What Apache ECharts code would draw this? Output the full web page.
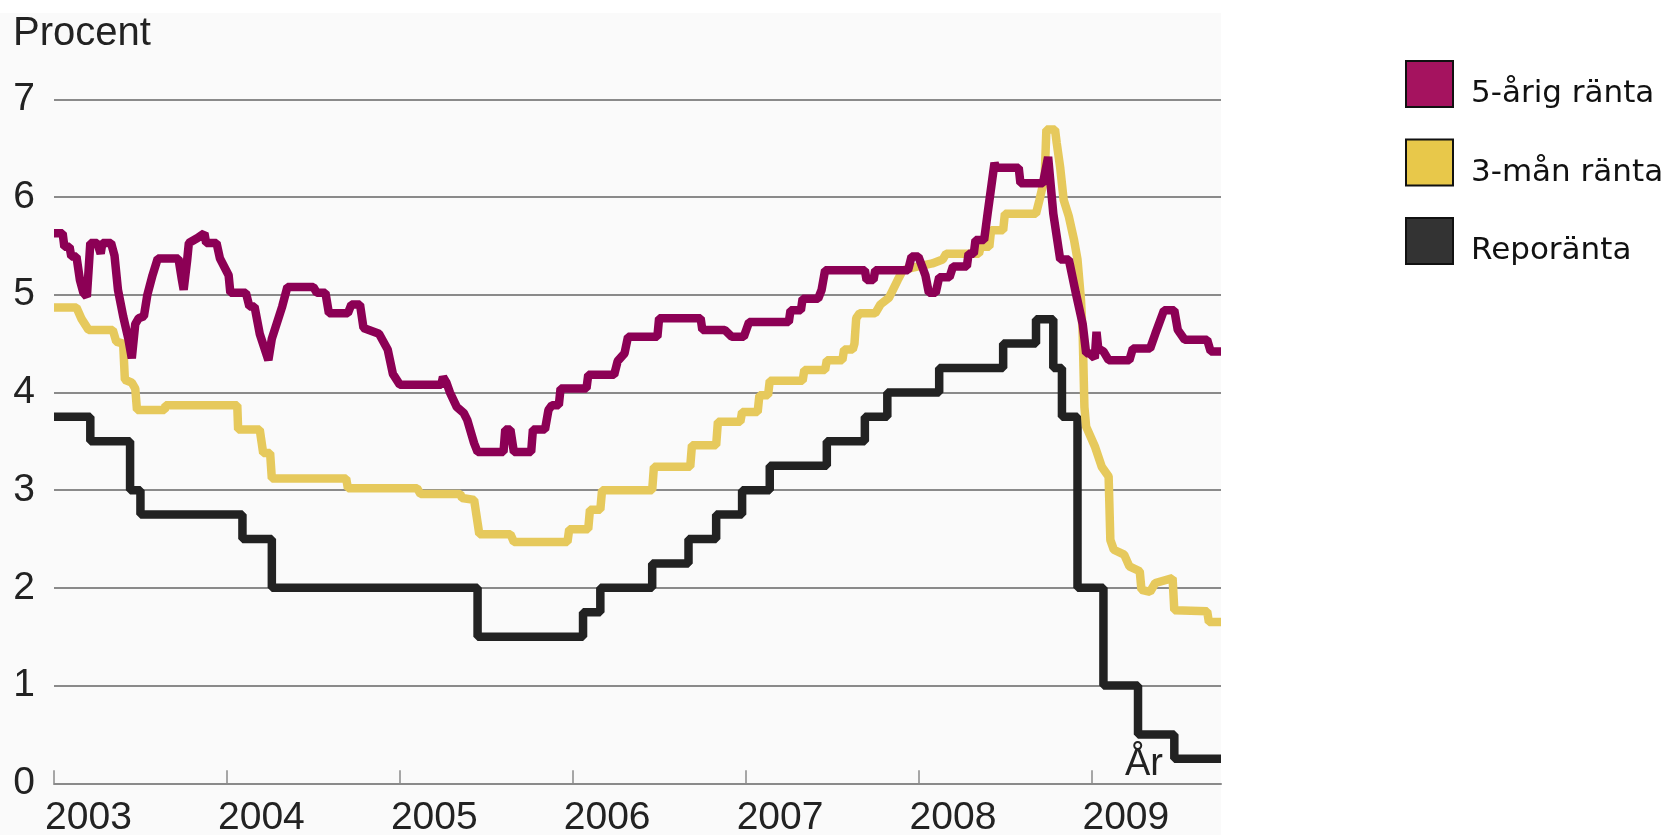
<!DOCTYPE html>
<html>
<head>
<meta charset="utf-8">
<script src="https://cdn.jsdelivr.net/npm/echarts@6/dist/echarts.min.js"></script>
<style>
html,body{margin:0;padding:0;background:#ffffff;}
#chart{width:1677px;height:835px;}
</style>
</head>
<body>
<div id="chart"></div>
<script>
// ---- Data ----
const yearTicks = [2003, 2004, 2005, 2006, 2007, 2008, 2009];
const seriesNames = ['5-årig ränta', '3-mån ränta', 'Reporänta'];

// Reporänta (step: value holds until next date)
const repoT = [2003.00, 2003.21, 2003.44, 2003.50, 2004.09, 2004.26, 2005.45, 2006.06, 2006.16, 2006.46, 2006.67, 2006.83, 2006.98, 2007.14, 2007.47, 2007.69, 2007.82, 2008.12, 2008.49, 2008.68, 2008.78, 2008.83, 2008.92, 2009.07, 2009.27, 2009.48, 2009.75];
const repoV = [3.75, 3.50, 3.00, 2.75, 2.50, 2.00, 1.50, 1.75, 2.00, 2.25, 2.50, 2.75, 3.00, 3.25, 3.50, 3.75, 4.00, 4.25, 4.50, 4.75, 4.25, 3.75, 2.00, 1.00, 0.50, 0.25, 0.25];

// 3-mån ränta
const m3T = [2003.00, 2003.13, 2003.16, 2003.20, 2003.34, 2003.36, 2003.40, 2003.41, 2003.45, 2003.47, 2003.48, 2003.64, 2003.645, 2004.06, 2004.065, 2004.19, 2004.21, 2004.25, 2004.26, 2004.69, 2004.70, 2005.10, 2005.12, 2005.35, 2005.36, 2005.43, 2005.46, 2005.64, 2005.66, 2005.97, 2005.98, 2006.09, 2006.10, 2006.16, 2006.17, 2006.46, 2006.47, 2006.68, 2006.69, 2006.83, 2006.84, 2006.97, 2006.98, 2007.07, 2007.08, 2007.13, 2007.14, 2007.33, 2007.34, 2007.46, 2007.47, 2007.56, 2007.57, 2007.62, 2007.63, 2007.64, 2007.66, 2007.75, 2007.78, 2007.83, 2007.88, 2007.91, 2007.95, 2008.00, 2008.08, 2008.14, 2008.16, 2008.35, 2008.36, 2008.41, 2008.42, 2008.49, 2008.50, 2008.68, 2008.70, 2008.73, 2008.74, 2008.79, 2008.80, 2008.82, 2008.84, 2008.87, 2008.90, 2008.92, 2008.94, 2008.95, 2008.96, 2008.97, 2009.02, 2009.06, 2009.10, 2009.11, 2009.13, 2009.19, 2009.22, 2009.28, 2009.29, 2009.34, 2009.37, 2009.47, 2009.48, 2009.67, 2009.68, 2009.75];
const m3V = [4.87, 4.87, 4.75, 4.64, 4.64, 4.52, 4.50, 4.13, 4.10, 4.04, 3.82, 3.82, 3.87, 3.87, 3.62, 3.62, 3.38, 3.38, 3.12, 3.12, 3.02, 3.02, 2.96, 2.96, 2.92, 2.90, 2.55, 2.55, 2.47, 2.47, 2.60, 2.60, 2.80, 2.80, 3.00, 3.00, 3.24, 3.24, 3.46, 3.46, 3.70, 3.70, 3.80, 3.80, 3.97, 3.97, 4.12, 4.12, 4.23, 4.23, 4.33, 4.33, 4.44, 4.44, 4.50, 4.76, 4.81, 4.81, 4.90, 4.97, 5.15, 5.25, 5.27, 5.29, 5.32, 5.36, 5.42, 5.42, 5.49, 5.49, 5.66, 5.66, 5.83, 5.83, 5.97, 6.20, 6.69, 6.69, 6.55, 6.30, 5.97, 5.80, 5.56, 5.36, 4.95, 4.60, 3.85, 3.65, 3.45, 3.24, 3.14, 2.49, 2.39, 2.34, 2.22, 2.17, 1.98, 1.96, 2.05, 2.10, 1.77, 1.76, 1.65, 1.65];

// 5-årig ränta
const y5T = [2003.00, 2003.05, 2003.06, 2003.09, 2003.10, 2003.13, 2003.15, 2003.17, 2003.19, 2003.20, 2003.21, 2003.25, 2003.27, 2003.28, 2003.33, 2003.35, 2003.37, 2003.40, 2003.43, 2003.45, 2003.47, 2003.49, 2003.52, 2003.54, 2003.57, 2003.60, 2003.72, 2003.74, 2003.75, 2003.77, 2003.78, 2003.83, 2003.87, 2003.88, 2003.94, 2003.96, 2004.01, 2004.02, 2004.11, 2004.13, 2004.16, 2004.19, 2004.24, 2004.26, 2004.28, 2004.32, 2004.35, 2004.50, 2004.52, 2004.57, 2004.59, 2004.70, 2004.72, 2004.77, 2004.79, 2004.88, 2004.93, 2004.96, 2005.00, 2005.24, 2005.25, 2005.27, 2005.29, 2005.33, 2005.37, 2005.39, 2005.43, 2005.45, 2005.60, 2005.61, 2005.64, 2005.66, 2005.76, 2005.77, 2005.84, 2005.86, 2005.88, 2005.92, 2005.93, 2006.08, 2006.09, 2006.24, 2006.26, 2006.30, 2006.32, 2006.49, 2006.50, 2006.74, 2006.75, 2006.88, 2006.92, 2006.99, 2007.02, 2007.25, 2007.26, 2007.32, 2007.33, 2007.42, 2007.44, 2007.46, 2007.69, 2007.70, 2007.74, 2007.75, 2007.94, 2007.96, 2008.00, 2008.04, 2008.06, 2008.10, 2008.12, 2008.18, 2008.20, 2008.28, 2008.29, 2008.32, 2008.33, 2008.38, 2008.40, 2008.44, 2008.45, 2008.58, 2008.59, 2008.72, 2008.75, 2008.78, 2008.82, 2008.87, 2008.91, 2008.95, 2008.97, 2008.99, 2009.02, 2009.03, 2009.04, 2009.07, 2009.10, 2009.22, 2009.24, 2009.34, 2009.37, 2009.42, 2009.48, 2009.50, 2009.54, 2009.67, 2009.69, 2009.75];
const y5V = [5.63, 5.63, 5.49, 5.49, 5.39, 5.39, 5.15, 5.02, 4.98, 5.25, 5.53, 5.53, 5.42, 5.53, 5.53, 5.40, 5.05, 4.78, 4.55, 4.35, 4.70, 4.76, 4.78, 5.00, 5.20, 5.37, 5.37, 5.15, 5.05, 5.35, 5.53, 5.58, 5.63, 5.53, 5.53, 5.37, 5.20, 5.02, 5.02, 4.88, 4.88, 4.60, 4.33, 4.55, 4.66, 4.88, 5.08, 5.08, 5.02, 5.02, 4.81, 4.81, 4.90, 4.90, 4.66, 4.60, 4.44, 4.19, 4.08, 4.08, 4.16, 4.10, 4.00, 3.85, 3.79, 3.72, 3.48, 3.39, 3.39, 3.62, 3.62, 3.39, 3.39, 3.62, 3.62, 3.82, 3.87, 3.87, 4.04, 4.04, 4.18, 4.18, 4.32, 4.40, 4.57, 4.57, 4.76, 4.76, 4.64, 4.64, 4.57, 4.57, 4.72, 4.72, 4.84, 4.84, 4.96, 4.96, 5.05, 5.25, 5.25, 5.15, 5.15, 5.25, 5.25, 5.39, 5.39, 5.20, 5.02, 5.02, 5.18, 5.18, 5.29, 5.29, 5.42, 5.42, 5.56, 5.56, 5.83, 6.35, 6.30, 6.30, 6.14, 6.14, 6.41, 5.83, 5.36, 5.36, 5.02, 4.70, 4.40, 4.40, 4.35, 4.62, 4.45, 4.42, 4.33, 4.33, 4.45, 4.45, 4.60, 4.84, 4.84, 4.64, 4.54, 4.54, 4.42, 4.42];

// ---- Chart ----
const FONT = "'Liberation Sans', Arial, Helvetica, sans-serif";
const LEGEND_FONT = "'DejaVu Sans', 'Liberation Sans', Arial, sans-serif";
const pairs = (T, V) => T.map((t, i) => [t, V[i]]);

const chart = echarts.init(document.getElementById('chart'), null, {renderer: 'canvas'});
const option = {
  backgroundColor: '#ffffff',
  animation: false,
  textStyle: {fontFamily: FONT},
  title: {
    text: 'Procent', left: 13, top: 14, padding: 0,
    textStyle: {fontFamily: FONT, fontSize: 40, fontWeight: 'normal', color: '#222'}
  },
  graphic: [{
    type: 'rect', z: -10, silent: true,
    shape: {x: 0, y: 13, width: 1221, height: 822},
    style: {fill: '#fafafa'}
  }],
  legend: {
    orient: 'vertical', left: 1405, top: 60, padding: 0,
    itemWidth: 47, itemHeight: 46, itemGap: 29,
    icon: 'rect',
    formatter: name => '{t|' + name + '}',
    textStyle: {
      fontFamily: LEGEND_FONT, fontSize: 31, color: '#111',
      rich: {t: {fontFamily: LEGEND_FONT, fontSize: 31, color: '#111', padding: [20, 0, 0, 13]}}
    },
    data: [
      {name: seriesNames[0], itemStyle: {color: '#a5135f', borderColor: '#111', borderWidth: 2}},
      {name: seriesNames[1], itemStyle: {color: '#e8c84a', borderColor: '#111', borderWidth: 2}},
      {name: seriesNames[2], itemStyle: {color: '#333333', borderColor: '#111', borderWidth: 2}}
    ]
  },
  grid: {left: 54, right: 456, top: 99.3, bottom: 51.7, containLabel: false, outerBoundsMode: 'none'},
  xAxis: {
    type: 'value', min: 2003, max: 2009.75,
    name: 'År', nameLocation: 'end', nameGap: -96,
    nameTextStyle: {fontFamily: FONT, fontSize: 38, color: '#222', verticalAlign: 'bottom', align: 'left'},
    axisLine: {show: true, lineStyle: {color: '#8a8a8a', width: 2}},
    axisTick: {show: true, inside: true, length: 13, lineStyle: {color: '#8a8a8a', width: 1.5}, customValues: yearTicks},
    axisLabel: {
      customValues: yearTicks, fontFamily: FONT, fontSize: 39, color: '#222',
      align: 'center', padding: [0, 0, 0, 69], margin: 15, formatter: v => String(v)
    },
    splitLine: {show: false}
  },
  yAxis: {
    type: 'value', min: 0, max: 7, interval: 1,
    axisLine: {show: false}, axisTick: {show: false},
    axisLabel: {fontFamily: FONT, fontSize: 39, color: '#222', margin: 19},
    splitLine: {show: true, lineStyle: {color: '#8a8a8a', width: 2}}
  },
  series: [
    {
      name: seriesNames[2], type: 'line', step: 'end', z: 3,
      data: pairs(repoT, repoV), showSymbol: false, symbol: 'none',
      itemStyle: {color: '#333333'},
      lineStyle: {color: '#222222', width: 8.5}
    },
    {
      name: seriesNames[1], type: 'line', z: 4,
      data: pairs(m3T, m3V), showSymbol: false, symbol: 'none',
      itemStyle: {color: '#e8c84a'},
      lineStyle: {color: '#e6c95c', width: 8.5}
    },
    {
      name: seriesNames[0], type: 'line', z: 5,
      data: pairs(y5T, y5V), showSymbol: false, symbol: 'none',
      itemStyle: {color: '#a5135f'},
      lineStyle: {color: '#8c0055', width: 8.5}
    }
  ]
};
chart.setOption(option);
</script>
</body>
</html>
